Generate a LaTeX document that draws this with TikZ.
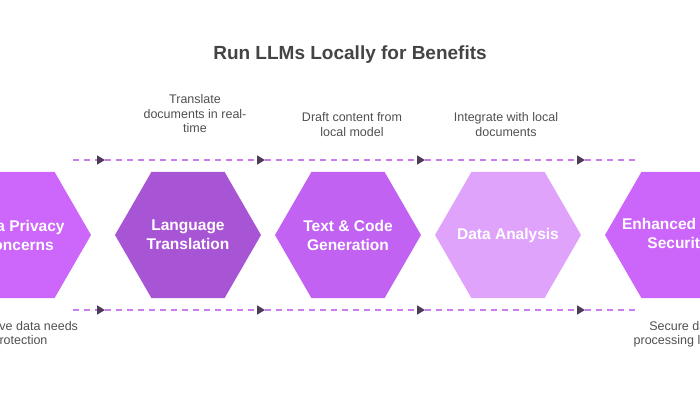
\documentclass[tikz,border=0pt]{standalone}
\usepackage{fontspec}
\setmainfont{Liberation Sans}
\usetikzlibrary{shapes.geometric,arrows.meta}
\definecolor{hexA}{HTML}{CD66FA}
\definecolor{hexB}{HTML}{A855D5}
\definecolor{hexC}{HTML}{C262F2}
\definecolor{hexD}{HTML}{E0A3FC}
\definecolor{hexE}{HTML}{CC66FA}
\definecolor{flowline}{HTML}{CC7EEF}
\definecolor{tipdark}{HTML}{4B3B57}
\definecolor{notegray}{HTML}{505050}
\definecolor{titlegray}{HTML}{444444}
\begin{document}
\begin{tikzpicture}[x=1pt,y=1pt,
    hexa/.style={regular polygon, regular polygon sides=6, minimum size=146pt,
      inner sep=0pt},
    hextext/.style={text=white, align=center,
      font=\bfseries\fontsize{15.5}{19}\selectfont},
    note/.style={text=notegray, align=center,
      font=\fontsize{12.5}{14.5}\selectfont},
    flow/.style={flowline, line width=1.5pt, dash pattern=on 6pt off 5pt},
    tip/.style={-{Triangle[length=8pt,width=9pt,color=tipdark]}}]
  \useasboundingbox (0,0) rectangle (700,400);
  \clip (0,0) rectangle (700,400);
  \node[text=titlegray, font=\bfseries\fontsize{19}{23}\selectfont] (Title) at (350,345) {Run LLMs Locally for Benefits};
  \node[hexa, fill=hexA] (Privacy) at (18,165) {};
  \node[hexa, fill=hexB] (Lang) at (188,165) {};
  \node[hexa, fill=hexC] (Code) at (348,165) {};
  \node[hexa, fill=hexD] (Analysis) at (508,165) {};
  \node[hexa, fill=hexE] (Security) at (678,165) {};
  \begin{scope}[every node/.style={hextext}]
    \node (PrivacyText) at (Privacy) {Data Privacy\\Concerns};
    \node (LangText) at (Lang) {Language\\Translation};
    \node (CodeText) at (Code) {Text \& Code\\Generation};
    \node (AnalysisText) at (Analysis) {Data Analysis};
    \node (SecurityText) at (Security) {Enhanced Data\\Security};
  \end{scope}
  \coordinate (t0) at (73,240);
  \coordinate (t1) at (105,240);
  \coordinate (t2) at (265,240);
  \coordinate (t3) at (425,240);
  \coordinate (t4) at (585,240);
  \coordinate (t5) at (635,240);
  \coordinate (b0) at (73,90);
  \coordinate (b1) at (105,90);
  \coordinate (b2) at (265,90);
  \coordinate (b3) at (425,90);
  \coordinate (b4) at (585,90);
  \coordinate (b5) at (635,90);
  \draw[flow, tip] (t0) -- (t1);
  \draw[flow, tip] (t1) -- (t2);
  \draw[flow, tip] (t2) -- (t3);
  \draw[flow, tip] (t3) -- (t4);
  \draw[flow] (t4) -- (t5);
  \draw[flow, tip] (b0) -- (b1);
  \draw[flow, tip] (b1) -- (b2);
  \draw[flow, tip] (b2) -- (b3);
  \draw[flow, tip] (b3) -- (b4);
  \draw[flow] (b4) -- (b5);
  \begin{scope}[every node/.style={note}]
    \node (LangNote) at (195,286) {Translate\\documents in real-\\time};
    \node (CodeNote) at (352,275.5) {Draft content from\\local model};
    \node (AnalysisNote) at (506,275.5) {Integrate with local\\documents};
    \node (PrivacyNote) at (20,65.5) {Sensitive data needs\\protection};
    \node (SecurityNote) at (683,65.5) {Secure data\\processing locally};
  \end{scope}
\end{tikzpicture}
\end{document}
